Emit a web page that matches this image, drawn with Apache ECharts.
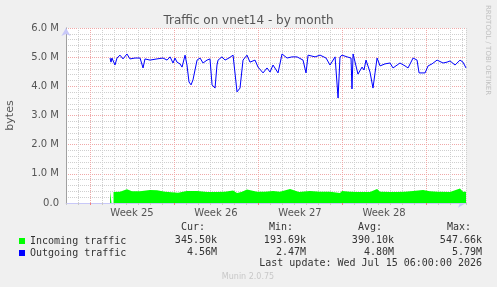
<!DOCTYPE html>
<html>
<head>
<meta charset="utf-8">
<title>Traffic on vnet14 - by month</title>
<script src="https://cdn.jsdelivr.net/npm/echarts@6/dist/echarts.min.js"></script>
<style>
  html, body { margin: 0; padding: 0; background: #f0f0f0; }
  #chart { width: 497px; height: 287px; }
</style>
</head>
<body>
<div id="chart"></div>
<script>
// x values are days counted from the left edge of the month window
var weekStarts = [2, 9, 16, 23, 30];
var weekMids = [5.5, 12.5, 19.5, 26.5];
var weekNames = ['Week 25', 'Week 26', 'Week 27', 'Week 28'];

// outgoing traffic, M bytes
var outDays = [3.67, 3.75, 3.83, 3.92, 4.08, 4.25, 4.5, 4.75, 5.08, 5.33, 5.75, 6.17, 6.42, 6.58, 7.0, 7.58,
  8.08, 8.42, 8.67, 8.92, 9.08, 9.25, 9.5, 9.67, 9.92, 10.08, 10.25, 10.42, 10.58, 10.92, 11.17, 11.42,
  11.75, 12.0, 12.17, 12.42, 12.58, 12.67, 13.0, 13.25, 13.58, 13.92, 14.08, 14.25, 14.5, 14.75, 15.08,
  15.33, 15.75, 16.0, 16.42, 16.75, 17.0, 17.25, 17.67, 18.0, 18.42, 18.83, 19.25, 19.75, 20.0, 20.17,
  20.75, 21.17, 21.67, 22.0, 22.42, 22.67, 22.83, 23.0, 23.42, 23.75, 23.83, 23.92, 24.33, 24.67, 24.83,
  25.0, 25.33, 25.58, 25.75, 25.92, 26.17, 26.58, 27.0, 27.25, 27.83, 28.25, 28.5, 28.92, 29.25, 29.42,
  29.92, 30.17, 30.5, 30.92, 31.42, 31.75, 32.0, 32.42, 32.83, 33.08, 33.33];
var outValues = [4.97, 4.83, 4.97, 5.01, 4.73, 4.97, 5.07, 4.94, 5.11, 4.94, 4.97, 4.97, 4.63, 4.94, 4.90, 4.94,
  4.97, 4.90, 5.01, 4.80, 4.97, 4.83, 4.77, 4.66, 5.07, 4.73, 4.15, 4.05, 4.22, 4.90, 4.97, 4.80,
  4.90, 4.94, 4.05, 3.94, 4.73, 4.90, 5.01, 4.90, 4.97, 5.07, 5.04, 3.81, 3.94, 4.90, 5.07, 4.83,
  4.90, 4.66, 4.46, 4.63, 4.49, 4.73, 4.46, 5.11, 4.97, 5.01, 5.01, 4.90, 4.46, 5.07,
  5.01, 5.07, 4.97, 4.73, 5.01, 3.60, 5.01, 5.07, 5.01, 4.97, 3.91, 5.11, 4.42, 4.66, 4.56,
  4.90, 4.49, 3.94, 4.46, 4.97, 4.70, 4.77, 4.80, 4.63, 4.80, 4.70, 4.63, 4.97, 4.90, 4.46,
  4.46, 4.70, 4.77, 4.90, 4.80, 4.83, 4.87, 4.73, 4.90, 4.83, 4.63];

// incoming traffic, M bytes (null = no data)
var inDays = [3.67, 3.79, 3.83, 3.96, 4.5, 5.08, 5.5, 6.17, 7.0, 7.58, 8.25, 9.33, 10.08, 10.92, 11.75, 12.58,
  13.25, 13.92, 14.25, 14.67, 15.08, 15.92, 16.58, 17.25, 17.83, 18.67, 19.42, 20.33, 21.17, 22.0, 22.83,
  23.0, 23.67, 24.25, 25.33, 25.92, 26.17, 27.0, 27.58, 28.25, 28.92, 29.75, 30.33, 30.92, 32.0, 32.83,
  33.08, 33.33];
var inValues = [0.40, 0.40, null, 0.38, 0.39, 0.47, 0.40, 0.40, 0.45, 0.44, 0.39, 0.35, 0.41, 0.41, 0.38, 0.38,
  0.39, 0.43, 0.34, 0.39, 0.46, 0.39, 0.39, 0.41, 0.39, 0.48, 0.38, 0.41, 0.39, 0.39, 0.34,
  0.41, 0.39, 0.38, 0.38, 0.48, 0.39, 0.38, 0.38, 0.39, 0.41, 0.45, 0.40, 0.39, 0.38, 0.50,
  0.39, 0.39];

var legendNames = ['Incoming traffic', 'Outgoing traffic'];
var statHeaders = ['Cur:', 'Min:', 'Avg:', 'Max:'];
var inStats = ['345.50k', '193.69k', '390.10k', '547.66k'];
var outStats = ['4.56M', '2.47M', '4.80M', '5.79M'];
var lastUpdate = 'Last update: Wed Jul 15 06:00:00 2026';

function pairs(xs, ys) {
  return xs.map(function (x, i) { return [x, ys[i]]; });
}

var mono = 'DejaVu Sans Mono';
var sans = 'DejaVu Sans';
var textGrey = '#555';
var minorGrid = { color: '#cfcfcf', width: 1, type: [1, 1] };
var majorGrid = { color: '#f0a8a8', width: 1, type: [1, 1] };

// legend statistics columns
var headerLeft = [181, 269, 358, 447];
var valueRight = [217, 306, 394, 482];
var graphics = [];
statHeaders.forEach(function (h, i) {
  graphics.push({ type: 'text', x: headerLeft[i], y: 227,
    style: { text: h, font: '10px ' + mono, fill: '#333', verticalAlign: 'middle' } });
  graphics.push({ type: 'text', x: valueRight[i], y: 240,
    style: { text: inStats[i], font: '10px ' + mono, fill: '#333', align: 'right', verticalAlign: 'middle' } });
  graphics.push({ type: 'text', x: valueRight[i], y: 252,
    style: { text: outStats[i], font: '10px ' + mono, fill: '#333', align: 'right', verticalAlign: 'middle' } });
});
graphics.push({ type: 'text', x: 482, y: 263,
  style: { text: lastUpdate, font: '10px ' + mono, fill: '#333', align: 'right', verticalAlign: 'middle' } });
graphics.push({ type: 'text', x: 248, y: 277,
  style: { text: 'Munin 2.0.75', font: '8px ' + sans, fill: '#c8c8c8', align: 'center', verticalAlign: 'middle' } });
graphics.push({ type: 'text', x: 491, y: 5, rotation: -Math.PI / 2,
  style: { text: 'RRDTOOL / TOBI OETIKER', font: '7px ' + sans, fill: '#c0c0c0' } });

var chart = echarts.init(document.getElementById('chart'));
chart.setOption({
  animation: false,
  backgroundColor: '#f0f0f0',
  title: {
    text: 'Traffic on vnet14 - by month',
    left: 'center', top: 10,
    textStyle: { fontFamily: sans, fontSize: 12, fontWeight: 'normal', color: textGrey }
  },
  legend: {
    data: legendNames,
    orient: 'vertical', left: 14, top: 230,
    icon: 'rect', itemWidth: 6, itemHeight: 6, itemGap: 0,
    textStyle: { fontFamily: mono, fontSize: 10, color: '#333', lineHeight: 12 },
    selectedMode: false
  },
  grid: {
    left: 66, top: 28, width: 400, height: 175,
    outerBoundsMode: 'none',
    show: true, backgroundColor: '#ffffff', borderWidth: 0
  },
  xAxis: [{
    type: 'value', min: 0, max: 33.33, interval: 1, position: 'bottom',
    axisLine: { lineStyle: { color: '#c8c8f8' }, symbol: ['none', 'arrow'], symbolSize: [7, 8] },
    axisTick: { length: 2, lineStyle: { color: '#c8c8c8' } },
    axisLabel: { show: false },
    splitLine: { show: true, lineStyle: minorGrid }
  }, {
    type: 'value', min: 0, max: 33.33, position: 'bottom',
    axisLine: { show: false },
    axisTick: { length: 2, customValues: weekStarts, lineStyle: { color: '#f08080' } },
    axisLabel: {
      customValues: weekMids, margin: 5,
      fontFamily: sans, fontSize: 10, color: textGrey,
      formatter: function (v) { return weekNames[weekMids.indexOf(v)]; }
    },
    splitLine: { show: true, lineStyle: majorGrid }
  }],
  yAxis: [{
    type: 'value', min: 0, max: 6, interval: 1,
    name: 'bytes', nameLocation: 'middle', nameGap: 50,
    nameTextStyle: { fontFamily: sans, fontSize: 11, color: textGrey },
    axisLine: { show: true, lineStyle: { color: '#c8c8f8' }, symbol: ['none', 'arrow'], symbolSize: [7, 8] },
    axisTick: { show: false },
    axisLabel: {
      margin: 7, fontFamily: sans, fontSize: 10, color: textGrey,
      formatter: function (v) { return v === 0 ? '0.0' : v.toFixed(1) + ' M'; }
    },
    splitLine: { show: true, lineStyle: majorGrid },
    minorTick: { show: false, splitNumber: 5 },
    minorSplitLine: { show: true, lineStyle: minorGrid }
  }, {
    type: 'value', min: 0, max: 6, position: 'right',
    axisLine: { show: true, lineStyle: { color: '#a0a0a0' } },
    axisTick: { show: false }, axisLabel: { show: false }, splitLine: { show: false }
  }],
  series: [{
    name: legendNames[0], type: 'line',
    data: pairs(inDays, inValues),
    symbol: 'none', connectNulls: false,
    itemStyle: { color: '#00ff00' },
    lineStyle: { width: 0, color: '#00ff00' },
    areaStyle: { color: '#00ff00', opacity: 1 },
    z: 3
  }, {
    name: legendNames[1], type: 'line',
    data: pairs(outDays, outValues),
    symbol: 'none',
    itemStyle: { color: '#0000ff' },
    lineStyle: { width: 1, color: '#0000ff' },
    z: 4
  }],
  graphic: graphics
});
</script>
</body>
</html>
